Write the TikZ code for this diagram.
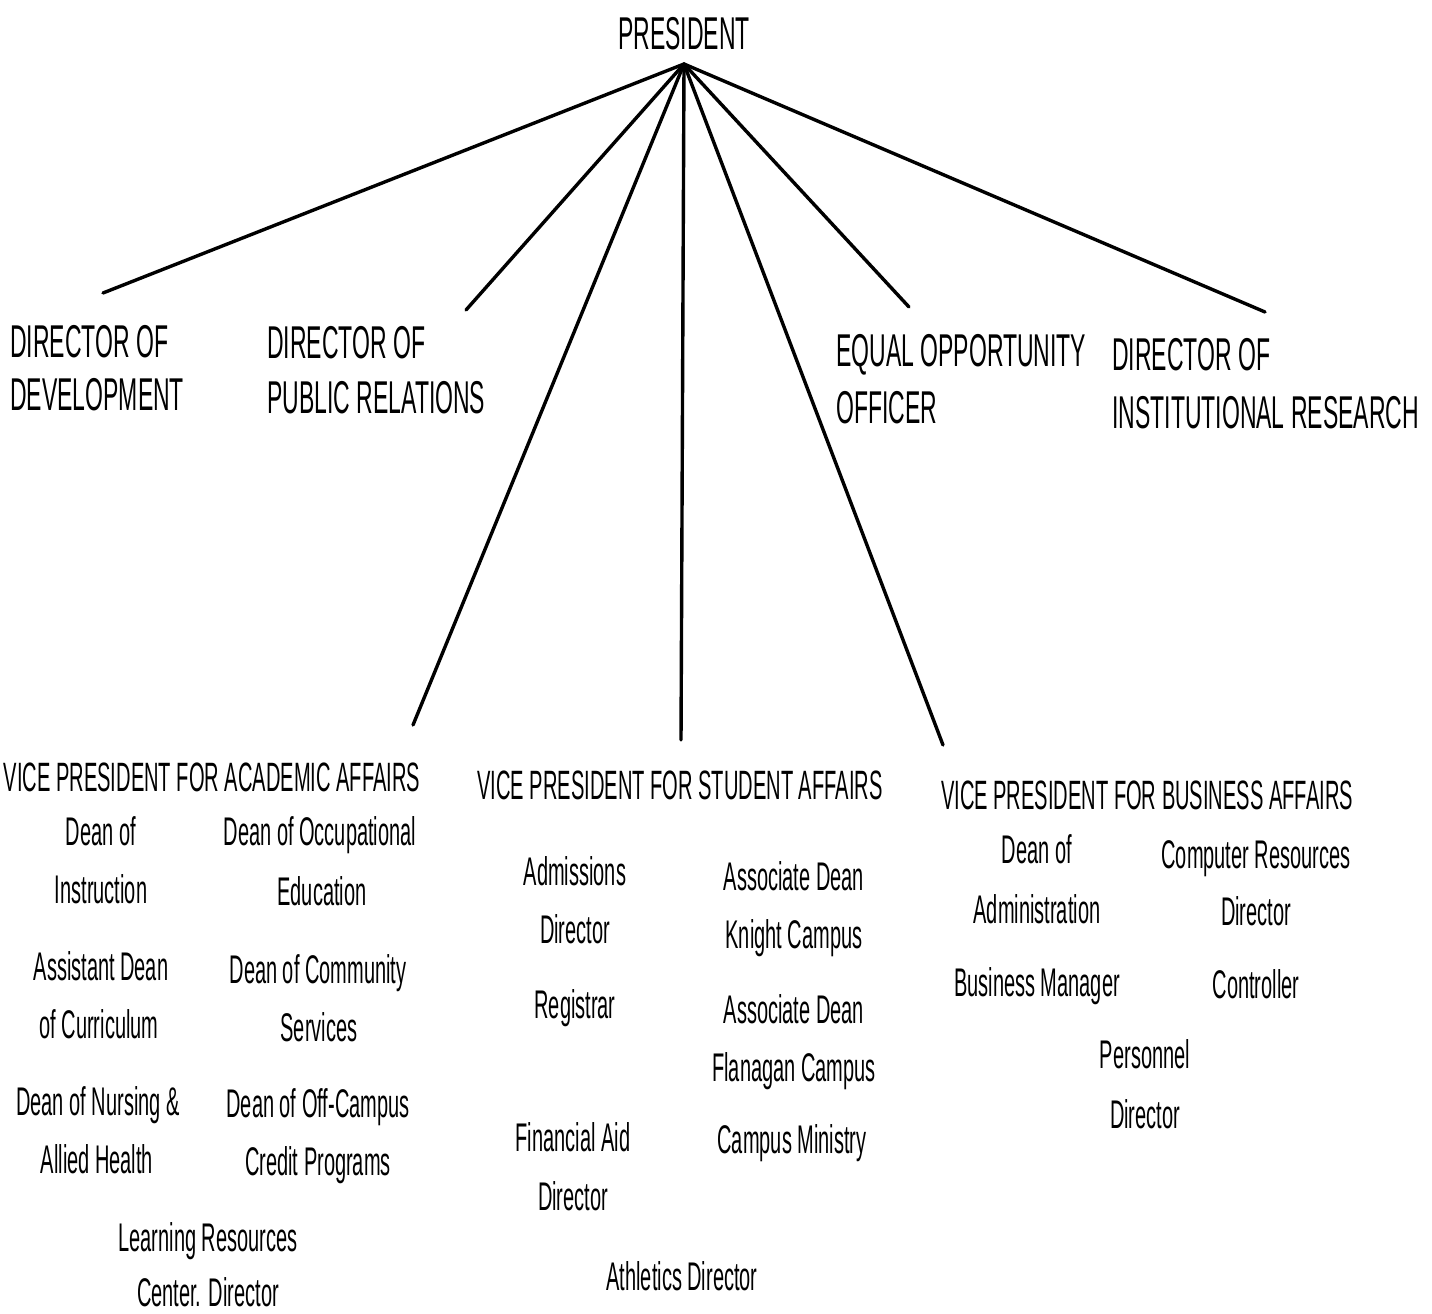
\documentclass[tikz,border=0pt]{standalone}
\usepackage{fontspec}
\setmainfont{Liberation Sans}[FakeStretch=0.5]
\newfontfamily\capfont{Liberation Sans}[FakeStretch=0.49]
\newfontfamily\topfont{Liberation Sans}[FakeStretch=0.5]
\begin{document}
\begin{tikzpicture}[x=1pt,y=-1pt,
  link/.style={line width=3.4pt, line cap=round},
  ttl/.style={font=\capfont\fontsize{41}{41}\selectfont, inner sep=0pt, anchor=base},
  topt/.style={font=\topfont\fontsize{46}{46}\selectfont, inner sep=0pt, anchor=base},
  ttll/.style={topt, anchor=base west},
  lbl/.style={font=\fontsize{40}{40}\selectfont, inner sep=0pt, anchor=base}]
\useasboundingbox (0,0) rectangle (1432,1314);
\fill[white] (0,0) rectangle (1432,1314);
% President
\node[topt] (pres) at (684,49) {PRESIDENT};
\coordinate (apex) at (684,64);
% staff titles
\node[ttll] (dev1) at (10,357) {DIRECTOR OF};
\node[ttll] (dev2) at (10,410) {DEVELOPMENT};
\node[ttll] (pr1) at (267,358) {DIRECTOR OF};
\node[ttll] (pr2) at (267,413) {PUBLIC RELATIONS};
\node[ttll] (eo1) at (836,366) {EQUAL OPPORTUNITY};
\node[ttll] (eo2) at (836,423) {OFFICER};
\node[ttll] (ir1) at (1112,370) {DIRECTOR OF};
\node[ttll] (ir2) at (1112,428) {INSTITUTIONAL RESEARCH};
% vice presidents
\node[ttl] (vpa) at (212,791) {VICE PRESIDENT FOR ACADEMIC AFFAIRS};
\node[ttl] (vps) at (680,799) {VICE PRESIDENT FOR STUDENT AFFAIRS};
\node[ttl] (vpb) at (1147,809) {VICE PRESIDENT FOR BUSINESS AFFAIRS};
% connector end points
\coordinate (edev) at (103,293);
\coordinate (epr) at (466,310);
\coordinate (evpa) at (413,725);
\coordinate (evps) at (681,740);
\coordinate (evpb) at (943,745);
\coordinate (eeo) at (909,307);
\coordinate (eir) at (1265,312);
\foreach \e in {edev,epr,evpa,evps,evpb,eeo,eir}
  \draw[link] (apex) -- (\e);
% academic affairs
\node[lbl] (a1) at (101,845) {Dean of};
\node[lbl] (a2) at (101,903) {Instruction};
\node[lbl] (a3) at (101,980) {Assistant Dean};
\node[lbl] (a4) at (99,1038) {of Curriculum};
\node[lbl] (a5) at (98,1115) {Dean of Nursing \&};
\node[lbl] (a6) at (97,1173) {Allied Health};
\node[lbl] (a7) at (320,845) {Dean of Occupational};
\node[lbl] (a8) at (322,905) {Education};
\node[lbl] (a9) at (318,983) {Dean of Community};
\node[lbl] (a10) at (319,1041) {Services};
\node[lbl] (a11) at (318,1117) {Dean of Off-Campus};
\node[lbl] (a12) at (318,1175) {Credit Programs};
\node[lbl] (a13) at (208,1251) {Learning Resources};
\node[lbl] (a14) at (208,1306) {Center. Director};
% student affairs
\node[lbl] (s1) at (575,885) {Admissions};
\node[lbl] (s2) at (575,943) {Director};
\node[lbl] (s3) at (575,1018) {Registrar};
\node[lbl] (s4) at (573,1151) {Financial Aid};
\node[lbl] (s5) at (573,1210) {Director};
\node[lbl] (s6) at (794,890) {Associate Dean};
\node[lbl] (s7) at (794,948) {Knight Campus};
\node[lbl] (s8) at (794,1023) {Associate Dean};
\node[lbl] (s9) at (794,1081) {Flanagan Campus};
\node[lbl] (s10) at (792,1153) {Campus Ministry};
\node[lbl] (s11) at (682,1290) {Athletics Director};
% business affairs
\node[lbl] (b1) at (1037,863) {Dean of};
\node[lbl] (b2) at (1037,923) {Administration};
\node[lbl] (b3) at (1037,996) {Business Manager};
\node[lbl] (b4) at (1256,868) {Computer Resources};
\node[lbl] (b5) at (1256,925) {Director};
\node[lbl] (b6) at (1256,998) {Controller};
\node[lbl] (b7) at (1145,1068) {Personnel};
\node[lbl] (b8) at (1145,1128) {Director};
\end{tikzpicture}
\end{document}
